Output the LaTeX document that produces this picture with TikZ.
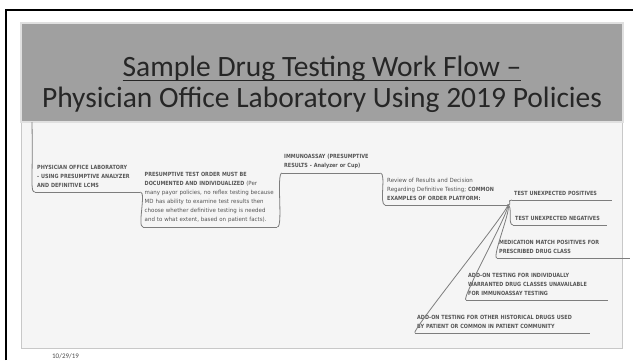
\documentclass[tikz,border=0pt]{standalone}
\usepackage{fontspec}
\setmainfont{Carlito}
\newfontfamily\mapfont[FakeStretch=0.96, BoldFeatures={FakeStretch=0.86}]{DejaVu Sans}
\newcommand\headrule[1]{\setbox0\hbox{#1}\rlap{\rule[-4.5pt]{\wd0}{1pt}}\box0}
\usetikzlibrary{positioning}
\definecolor{bandgray}{RGB}{160,160,160}
\definecolor{panelgray}{RGB}{245,245,245}
\definecolor{edgegray}{RGB}{200,200,200}
\definecolor{mapline}{RGB}{125,125,125}
\definecolor{maptext}{RGB}{85,85,85}
\tikzset{
  headline/.style={anchor=base, inner sep=0, text=black!85,
    font=\fontsize{29.5}{31}\selectfont},
  topic/.style={anchor=south west, align=left, inner xsep=2pt, inner ysep=4.5pt,
    font=\mapfont\bfseries\fontsize{5.7}{9}\selectfont, text=maptext},
  branch/.style={draw=mapline, line width=0.8pt}
}

\begin{document}
\begin{tikzpicture}[x=1pt,y=-1pt]
  \useasboundingbox (0,0) rectangle (633,360);
  \clip (0,0) rectangle (633,360);

  % slide frame
  \draw[line width=2pt] (6,360) -- (6,10) -- (633,10);
  \fill[panelgray, draw=edgegray] (21,122) rectangle (622,348);
  \fill[bandgray, draw=white!88!black, line width=1.2pt] (21,23) rectangle (623,122);

  \node[headline] (head) at (322,76) {\headrule{Sample Drug Testing Work Flow –}};
  \node[headline] (subhead) at (322,107) {Physician Office Laboratory Using 2019 Policies};

  % mind map
  \coordinate (root) at (32,122);
  \node[topic, text width=101pt] (pol) at (35,192)
    {PHYSICIAN OFFICE LABORATORY\\- USING PRESUMPTIVE ANALYZER\\AND DEFINITIVE LCMS};
  \node[topic, inner xsep=1.5pt, text width=131pt] (order) at (143,227)
    {PRESUMPTIVE TEST ORDER MUST BE\\DOCUMENTED AND INDIVIDUALIZED \mdseries(Per\\many payor policies, no reflex testing because\\MD has ability to examine test results then\\choose whether definitive testing is needed\\and to what extent, based on patient facts).};
  \node[topic, text width=94pt] (immuno) at (282,173)
    {IMMUNOASSAY (PRESUMPTIVE\\RESULTS - Analyzer or Cup)};
  \node[topic, text width=118pt] (review) at (385,205)
    {\mdseries Review of Results and Decision\\Regarding Definitive Testing; \bfseries COMMON\\EXAMPLES OF ORDER PLATFORM:};

  \node[topic, text width=96pt] (pos) at (512,200) {TEST UNEXPECTED POSITIVES};
  \node[topic, text width=90pt] (neg) at (513,225) {TEST UNEXPECTED NEGATIVES};
  \node[topic, text width=129pt] (medmatch) at (497,258)
    {MEDICATION MATCH POSITIVES FOR\\PRESCRIBED DRUG CLASS};
  \node[topic, text width=138pt] (addonA) at (466,300)
    {ADD-ON TESTING FOR INDIVIDUALLY\\WARRANTED DRUG CLASSES UNAVAILABLE\\FOR IMMUNOASSAY TESTING};
  \node[topic, text width=171pt] (addonB) at (415,333)
    {ADD-ON TESTING FOR OTHER HISTORICAL DRUGS USED\\BY PATIENT OR COMMON IN PATIENT COMMUNITY};

  \foreach \n in {pol,order,immuno,review,pos,neg,medmatch,addonA,addonB}
    \draw[branch] (\n.south west) -- (\n.south east);

  \draw[branch] (root) .. controls +(1,62) and +(-5,0) .. (pol.south west);
  \draw[branch] (pol.south east) .. controls +(6,0) and +(-6,0) .. (order.south west);
  \draw[branch] (order.south east) .. controls +(6,0) and +(-6,0) .. (immuno.south west);
  \draw[branch] (immuno.south east) .. controls +(6,0) and +(-6,0) .. (review.south west);
  \foreach \n in {pos,neg,medmatch,addonA,addonB}
    \draw[branch] (review.south east) .. controls +(6,0) and +(-6,0) .. (\n.south west);

  \node[anchor=base west, inner sep=0, text=black!70, font=\fontsize{7}{8}\selectfont]
    (date) at (52,358) {10/29/19};
\end{tikzpicture}
\end{document}
